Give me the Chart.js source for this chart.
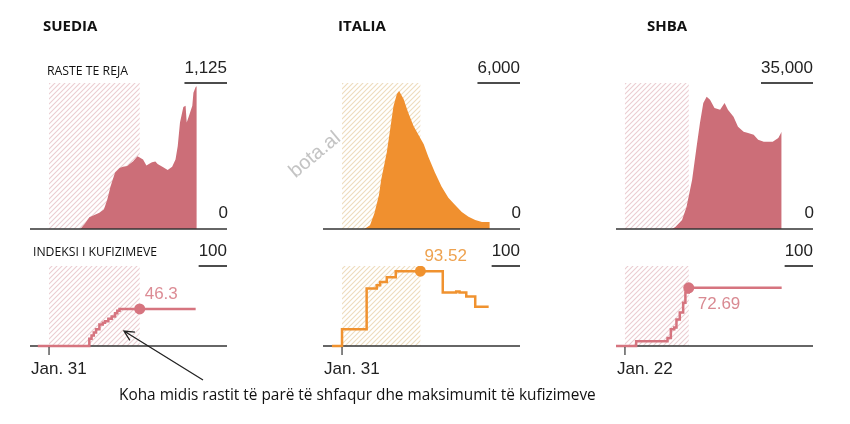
<!DOCTYPE html>
<html>
<head>
<meta charset="utf-8">
<script src="https://cdn.jsdelivr.net/npm/chart.js@4.4.0/dist/chart.umd.min.js"></script>
<style>
    html, body { margin: 0; padding: 0; background: #fff; }
    #wrap { position: relative; width: 850px; height: 424px; overflow: hidden; }
    #wrap canvas { position: absolute; }
    #overlay { left: 0; top: 0; z-index: 2; pointer-events: none; }
</style>
</head>
<body>
<div id="wrap"><canvas id="overlay" width="850" height="424"></canvas></div>
<script>
// data
const countries = ['SUEDIA', 'ITALIA', 'SHBA'];
const firstCaseLabels = ['Jan. 31', 'Jan. 31', 'Jan. 22'];
const caseMax = [1125, 6000, 35000];
const caseMaxLabels = ['1,125', '6,000', '35,000'];
const indexMax = 100;
const indexMaxLabel = '100';
const peakIndex = [46.3, 93.52, 72.69];
const peakLabels = ['46.3', '93.52', '72.69'];
// days from first case until the restrictions peak
const peakDays = [81, 70, 57];
const dayMin = [-17, -17, -8];
const dayMax = [159, 159, 168];

// new cases per day (days counted from first case)
const sweCaseDays = [28, 32, 36, 41, 45, 49, 52, 55, 59, 63, 66, 70, 72, 75, 79, 81, 84, 87, 90, 92, 95, 97, 102, 106, 110, 113, 115, 117, 120, 122, 123, 125, 128, 129, 131, 132];
const sweCases = [0, 40, 90, 110, 125, 150, 225, 330, 435, 470, 480, 485, 500, 520, 560, 550, 535, 490, 505, 515, 520, 500, 475, 455, 480, 535, 640, 820, 940, 950, 820, 870, 950, 1050, 1095, 1100];

const itaCaseDays = [20, 25, 29, 33, 35, 38, 40, 43, 46, 49, 51, 55, 59, 64, 68, 73, 77, 83, 89, 95, 101, 107, 113, 119, 125, 132];
const itaCases = [0, 150, 660, 1400, 2030, 2700, 3150, 4100, 5050, 5550, 5670, 5340, 4800, 4220, 3890, 3480, 2980, 2320, 1740, 1280, 990, 700, 500, 370, 290, 290];

const usaCaseDays = [42, 45, 51, 55, 60, 64, 67, 70, 73, 76, 80, 85, 89, 92, 97, 101, 106, 110, 115, 119, 124, 128, 132, 137, 140];
const usaCases = [0, 500, 2160, 5300, 11800, 19700, 25400, 30200, 31700, 31000, 29000, 28600, 30200, 28600, 26900, 24500, 23300, 23000, 22600, 21400, 20900, 20900, 20900, 21800, 23300];

// restriction index (value holds from its day on)
const sweIdxDays = [-10, 36, 38, 40, 42, 45, 48, 50, 53, 56, 59, 61, 63, 131];
const sweIdx = [0, 9, 13, 17, 21, 27, 29, 31, 34, 37, 41, 44, 46.3, 46.3];

const itaIdxDays = [-9, 0, 22, 31, 34, 40, 48, 90, 102, 105, 111, 119, 131];
const itaIdx = [0, 21, 72, 76, 80, 86, 93.52, 67, 68, 67, 62, 49, 49];

const usaIdxDays = [-8, 10, 38, 41, 44, 46, 49, 52, 54, 57, 140];
const usaIdx = [0, 6, 10, 21, 23, 33, 42, 54, 67, 72.69, 72.69];

const caseDays = [sweCaseDays, itaCaseDays, usaCaseDays];
const caseVals = [sweCases, itaCases, usaCases];
const idxDays = [sweIdxDays, itaIdxDays, usaIdxDays];
const idxVals = [sweIdx, itaIdx, usaIdx];

// layout / styles
const styles = {
    plotLeft: [30, 323, 616],
    plotWidth: 197,
    pad: 12,
    area: ['#cc6e78', '#f0902f', '#cc6e78'],
    line: ['#d6747f', '#f0922f', '#d6747f'],
    peakText: ['#dc8c95', '#eea24f', '#d98a92'],
    hatch: ['#ebcdd1', '#eedcbd', '#ebcdd1'],
    // label offset from the peak dot
    peakDx: [5, 4, 9],
    peakDy: [-10, -10, 21],
    numFont: '17px "Liberation Sans", Arial, sans-serif'
};

const wrap = document.getElementById('wrap');
const overlay = document.getElementById('overlay');

function addCanvas(left, top, w, h) {
    const c = document.createElement('canvas');
    c.width = w;
    c.height = h;
    c.style.left = left + 'px';
    c.style.top = top + 'px';
    wrap.insertBefore(c, overlay);
    return c;
}

function hatchPattern(ctx, color) {
    const s = 5;
    const t = document.createElement('canvas');
    t.width = s;
    t.height = s;
    const g = t.getContext('2d');
    g.strokeStyle = color;
    g.lineWidth = 1.1;
    g.beginPath();
    g.moveTo(-1, s + 1); g.lineTo(s + 1, -1);
    g.moveTo(-1, 1); g.lineTo(1, -1);
    g.moveTo(s - 1, s + 1); g.lineTo(s + 1, s - 1);
    g.stroke();
    return ctx.createPattern(t, 'repeat');
}

function drawBaseline(chart) {
    const { ctx, chartArea: a, scales: { y } } = chart;
    const y0 = y.getPixelForValue(0);
    ctx.save();
    ctx.strokeStyle = '#333';
    ctx.lineWidth = 1.5;
    ctx.beginPath();
    ctx.moveTo(a.left, y0);
    ctx.lineTo(a.right, y0);
    ctx.stroke();
    ctx.restore();
}

// hatch box, baseline, max rule and labels
function decor(p) {
    return {
        id: 'decor',
        beforeDatasetsDraw(chart) {
            const { ctx, chartArea: a, scales: { x, y } } = chart;
            const x0 = x.getPixelForValue(0);
            const x1 = x.getPixelForValue(p.hatchEnd);
            ctx.save();
            ctx.fillStyle = hatchPattern(ctx, p.hatchColor);
            ctx.fillRect(x0, a.top, x1 - x0, y.getPixelForValue(0) - a.top);
            ctx.restore();
            if (!p.axisOnTop) drawBaseline(chart);
        },
        afterDatasetsDraw(chart) {
            const { ctx, chartArea: a, scales: { x, y } } = chart;
            const y0 = y.getPixelForValue(0);
            if (p.axisOnTop) drawBaseline(chart);
            ctx.save();
            ctx.font = styles.numFont;
            ctx.fillStyle = '#222';
            ctx.textAlign = 'right';
            ctx.textBaseline = 'alphabetic';
            const tw = ctx.measureText(p.maxLabel).width;
            ctx.fillText(p.maxLabel, a.right, a.top - 10);
            ctx.strokeStyle = '#111';
            ctx.lineWidth = 1.5;
            ctx.beginPath();
            ctx.moveTo(a.right - tw, a.top);
            ctx.lineTo(a.right, a.top);
            ctx.stroke();

            if (p.zero) {
                ctx.fillText('0', a.right + 1, y0 - 11);
            }
            if (p.tickLabel) {
                const xt = x.getPixelForValue(0);
                ctx.strokeStyle = '#333';
                ctx.lineWidth = 1.2;
                ctx.beginPath();
                ctx.moveTo(xt, y0 + 1);
                ctx.lineTo(xt, y0 + 9);
                ctx.stroke();
                ctx.textAlign = 'left';
                ctx.fillText(p.tickLabel, a.left + 1, y0 + 28);
            }
            if (p.peakLabel) {
                const px = x.getPixelForValue(p.hatchEnd);
                const py = y.getPixelForValue(p.peakValue);
                ctx.fillStyle = p.peakColor;
                ctx.textAlign = 'left';
                ctx.fillText(p.peakLabel, px + p.dx, py + p.dy);
            }
            ctx.restore();
        }
    };
}

function baseOptions(i, yMax, padTop, padBottom) {
    return {
        responsive: false,
        animation: false,
        devicePixelRatio: 1,
        layout: { padding: { left: styles.pad, right: styles.pad, top: padTop, bottom: padBottom } },
        plugins: { legend: { display: false }, tooltip: { enabled: false } },
        scales: {
            x: { type: 'linear', display: false, min: dayMin[i], max: dayMax[i] },
            y: { display: false, min: 0, max: yMax }
        }
    };
}

for (let i = 0; i < 3; i++) {
    const left = styles.plotLeft[i] - styles.pad;
    const w = styles.plotWidth + styles.pad * 2;

    // new cases
    const c1 = addCanvas(left, 45, w, 195);
    new Chart(c1, {
        type: 'line',
        data: {
            datasets: [{
                data: caseDays[i].map((d, k) => ({ x: d, y: caseVals[i][k] })),
                fill: 'origin',
                backgroundColor: styles.area[i],
                borderWidth: 0,
                pointRadius: 0,
                tension: 0
            }]
        },
        options: baseOptions(i, caseMax[i], 38, 11),
        plugins: [decor({
            hatchEnd: peakDays[i], hatchColor: styles.hatch[i], axisOnTop: true,
            maxLabel: caseMaxLabels[i], zero: true
        })]
    });

    // restriction index
    const c2 = addCanvas(left, 240, w, 140);
    new Chart(c2, {
        type: 'line',
        data: {
            datasets: [{
                data: idxDays[i].map((d, k) => ({ x: d, y: idxVals[i][k] })),
                stepped: 'before',
                borderColor: styles.line[i],
                borderWidth: 2.5,
                pointRadius: 0,
                fill: false,
                clip: 6
            }, {
                data: [{ x: peakDays[i], y: peakIndex[i] }],
                showLine: false,
                pointRadius: 5.5,
                pointBackgroundColor: styles.line[i],
                pointBorderWidth: 0
            }]
        },
        options: baseOptions(i, indexMax, 26, 34),
        plugins: [decor({
            hatchEnd: peakDays[i], hatchColor: styles.hatch[i], axisOnTop: false,
            maxLabel: indexMaxLabel, tickLabel: firstCaseLabels[i],
            peakLabel: peakLabels[i], peakValue: peakIndex[i], peakColor: styles.peakText[i],
            dx: styles.peakDx[i], dy: styles.peakDy[i]
        })]
    });
}

// titles, notes, watermark, arrow
const g = overlay.getContext('2d');
g.fillStyle = '#111';
g.font = 'bold 15px "Open Sans", sans-serif';
const titleX = [43, 338, 647];
countries.forEach((t, i) => g.fillText(t, titleX[i], 31));

// draw text squeezed to a given width
function fitText(text, x, y, width, size) {
    g.font = size + 'px "Open Sans", sans-serif';
    const s = size * width / g.measureText(text).width;
    g.font = s.toFixed(2) + 'px "Open Sans", sans-serif';
    g.fillText(text, x, y);
}

fitText('RASTE TE REJA', 47, 75, 81, 11);
fitText('INDEKSI I KUFIZIMEVE', 33, 256, 124, 11);
fitText('Koha midis rastit të parë të shfaqur dhe maksimumit të kufizimeve', 119, 400, 477, 15);

g.save();
g.translate(315, 155);
g.rotate(-40 * Math.PI / 180);
g.font = '20px "Liberation Sans", Arial, sans-serif';
g.fillStyle = '#c4c4c4';
g.textAlign = 'center';
g.textBaseline = 'middle';
g.fillText('bota.al', 0, 0);
g.restore();

// arrow
const ax0 = 203, ay0 = 380, ax1 = 124, ay1 = 331;
const ang = Math.atan2(ay0 - ay1, ax0 - ax1);
g.strokeStyle = '#222';
g.lineWidth = 1.3;
g.beginPath();
g.moveTo(ax0, ay0);
g.lineTo(ax1, ay1);
g.moveTo(ax1 + 11 * Math.cos(ang - 0.45), ay1 + 11 * Math.sin(ang - 0.45));
g.lineTo(ax1, ay1);
g.lineTo(ax1 + 11 * Math.cos(ang + 0.45), ay1 + 11 * Math.sin(ang + 0.45));
g.stroke();
</script>
</body>
</html>
